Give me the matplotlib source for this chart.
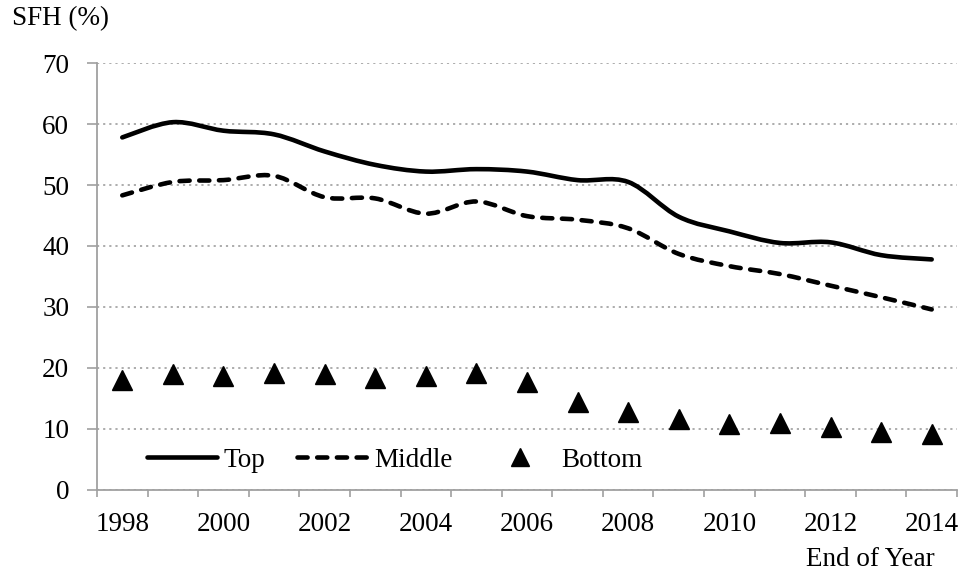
import numpy as np
import matplotlib.pyplot as plt
from matplotlib.path import Path
from matplotlib.patches import PathPatch
from matplotlib.lines import Line2D

plt.rcParams['font.family'] = ['Liberation Serif', 'DejaVu Serif']

# data (SFH share in %, end of year)
years = list(range(1998, 2015))
top = [57.8, 60.3, 58.9, 58.3, 55.5, 53.3, 52.2, 52.6, 52.2, 50.8, 50.5,
       44.8, 42.4, 40.5, 40.6, 38.5, 37.8]
middle = [48.3, 50.5, 50.8, 51.5, 48.0, 47.8, 45.3, 47.3, 44.9, 44.3, 42.9,
          38.7, 36.7, 35.4, 33.5, 31.6, 29.6]
bottom = [18.0, 19.0, 18.7, 19.1, 19.0, 18.3, 18.7, 19.1, 17.7, 14.5, 12.8,
          11.6, 10.8, 11.0, 10.3, 9.5, 9.1]
tick_years = ['1998', '2000', '2002', '2004', '2006', '2008', '2010', '2012', '2014']
y_ticks = [0, 10, 20, 30, 40, 50, 60, 70]

GRAY = '#a0a0a0'
FS = 19.5
LW = 3.3


def smooth_path(xs, ys):
    # excel-like smoothed line: bezier segments through the data points
    pts = np.column_stack([xs, ys]).astype(float)
    n = len(pts)
    verts = [pts[0]]
    codes = [Path.MOVETO]
    for i in range(n - 1):
        p0 = pts[max(i - 1, 0)]
        p1 = pts[i]
        p2 = pts[i + 1]
        p3 = pts[min(i + 2, n - 1)]
        verts += [p1 + (p2 - p0) / 6, p2 - (p3 - p1) / 6, p2]
        codes += [Path.CURVE4] * 3
    return Path(verts, codes)


fig = plt.figure(figsize=(9.65, 5.77), dpi=100)
ax = fig.add_axes([0.1005, 0.1508, 0.8912, 0.74])

x = np.arange(len(years))
dash = (0, (2.2, 2.1))

ax.add_patch(PathPatch(smooth_path(x, top), facecolor='none', edgecolor='black',
                       lw=LW, capstyle='round', zorder=3))
ax.add_patch(PathPatch(smooth_path(x, middle), facecolor='none', edgecolor='black',
                       lw=LW, linestyle=dash, capstyle='round', zorder=3))
ax.plot(x, bottom, linestyle='none', marker='^', markersize=14, color='black', zorder=3)

ax.set_xlim(-0.5, len(years) - 0.5)
ax.set_ylim(0, 70)

ax.set_xticks(x[::2])
ax.set_xticklabels(tick_years)
ax.set_xticks(np.arange(-0.5, len(years), 1), minor=True)
ax.tick_params(axis='x', which='major', length=0, pad=16, labelsize=FS)
ax.tick_params(axis='x', which='minor', length=5, width=1.2, color=GRAY, direction='out')

ax.set_yticks(y_ticks)
ax.tick_params(axis='y', length=7, width=1.2, color=GRAY, direction='out', pad=13, labelsize=FS)

ax.yaxis.grid(True, color='#a6a6a6', linestyle=(0, (1.2, 2.2)), lw=1.3)
ax.set_axisbelow(True)

for side in ['top', 'right']:
    ax.spines[side].set_visible(False)
for side in ['left', 'bottom']:
    ax.spines[side].set_color(GRAY)
    ax.spines[side].set_linewidth(1.3)

handles = [
    Line2D([], [], color='black', lw=LW, solid_capstyle='round'),
    Line2D([], [], color='black', lw=LW, linestyle=dash, dash_capstyle='round'),
    Line2D([], [], color='black', linestyle='none', marker='^', markersize=13),
]
ax.legend(handles, ['Top', 'Middle', 'Bottom'], loc='center left',
          bbox_to_anchor=(0.058, 0.07), ncol=3, frameon=False, fontsize=FS,
          handlelength=2.6, handletextpad=0.22, columnspacing=1.2,
          borderpad=0, borderaxespad=0)

fig.text(12 / 965, 1 - 19 / 577, 'SFH (%)', fontsize=FS, va='center', ha='left')
fig.text(935 / 965, 1 - 560 / 577, 'End of Year', fontsize=FS, va='center', ha='right')

fig.savefig('out.png', dpi=100)
